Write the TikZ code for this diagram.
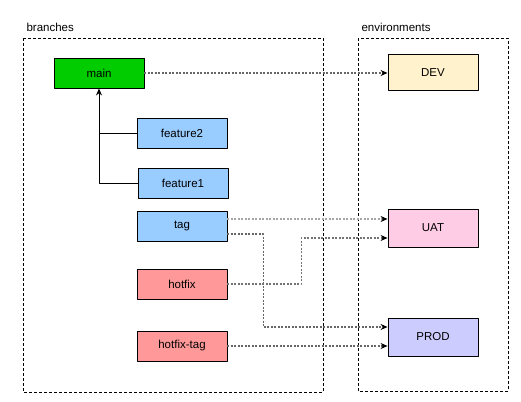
\documentclass[tikz,border=0pt]{standalone}
\usepackage{fontspec}
\setmainfont{Liberation Sans}
\usetikzlibrary{arrows.meta}
\definecolor{mainc}{HTML}{00CC00}
\definecolor{featc}{HTML}{99CCFF}
\definecolor{fixc}{HTML}{FF9999}
\definecolor{devc}{HTML}{FFF2CC}
\definecolor{uatc}{HTML}{FFCCE6}
\definecolor{prodc}{HTML}{CCCCFF}
\begin{document}
\begin{tikzpicture}[x=1pt,y=-1pt,line join=round,font=\fontsize{11.5}{13}\selectfont,
	box/.style={draw,line width=0.9pt,minimum width=90pt,minimum height=30pt,inner sep=0pt},
	env/.style={box,minimum height=36pt},
	group/.style={draw,line width=0.8pt,dash pattern=on 3pt off 2pt},
	link/.style={line width=1.2pt,dash pattern=on 2pt off 1.5pt,-{Stealth[black,length=7pt,width=6pt]}}]
	\useasboundingbox (0,0) rectangle (521,401);
	% groups
	\draw [group] (23,38) rectangle (323,392);
	\draw [group] (358,38) rectangle (508,391);
	\node [anchor=west] (lbranch) at (23,27) {branches};
	\node [anchor=west] (lenv) at (358,27) {environments};
	% branches
	\node [box,fill=mainc] (main) at (99,73) {main};
	\node [box,fill=featc] (feature2) at (182,133) {feature2};
	\node [box,fill=featc] (feature1) at (183,183) {feature1};
	\node [box,fill=featc] (tag) at (182,226) {tag};
	\node [box,fill=fixc] (hotfix) at (182,284) {hotfix};
	\node [box,fill=fixc] (hotfixtag) at (182,346) {hotfix-tag};
	% environments
	\node [env,fill=devc] (DEV) at (433,72.5) {DEV};
	\node [env,minimum height=38pt,fill=uatc] (UAT) at (433,228) {UAT};
	\node [env,minimum height=38pt,fill=prodc] (PROD) at (433,337) {PROD};
	%
	\draw [line width=0.9pt,-{Stealth[length=7pt,width=6pt]}] (feature1.west) -| (main.south);
	\draw [line width=0.9pt] (feature2.west) -- (feature2.west -| main.south);
	%
	\draw [link,black!60] (main.east) -- (main.east -| DEV.west);
	\draw [link,black!35] ([yshift=7pt]tag.east) -- ([yshift=7pt]tag.east -| UAT.west);
	\draw [link,black!60] ([yshift=-8pt]tag.east) -- ++(36,0) |- ([yshift=10pt]PROD.west);
	\draw [link,black!55] (hotfix.east) -- ++(74,0) |- ([yshift=-10pt]UAT.west);
	\draw [link,black!60] (hotfixtag.east) -- (hotfixtag.east -| PROD.west);
\end{tikzpicture}
\end{document}
